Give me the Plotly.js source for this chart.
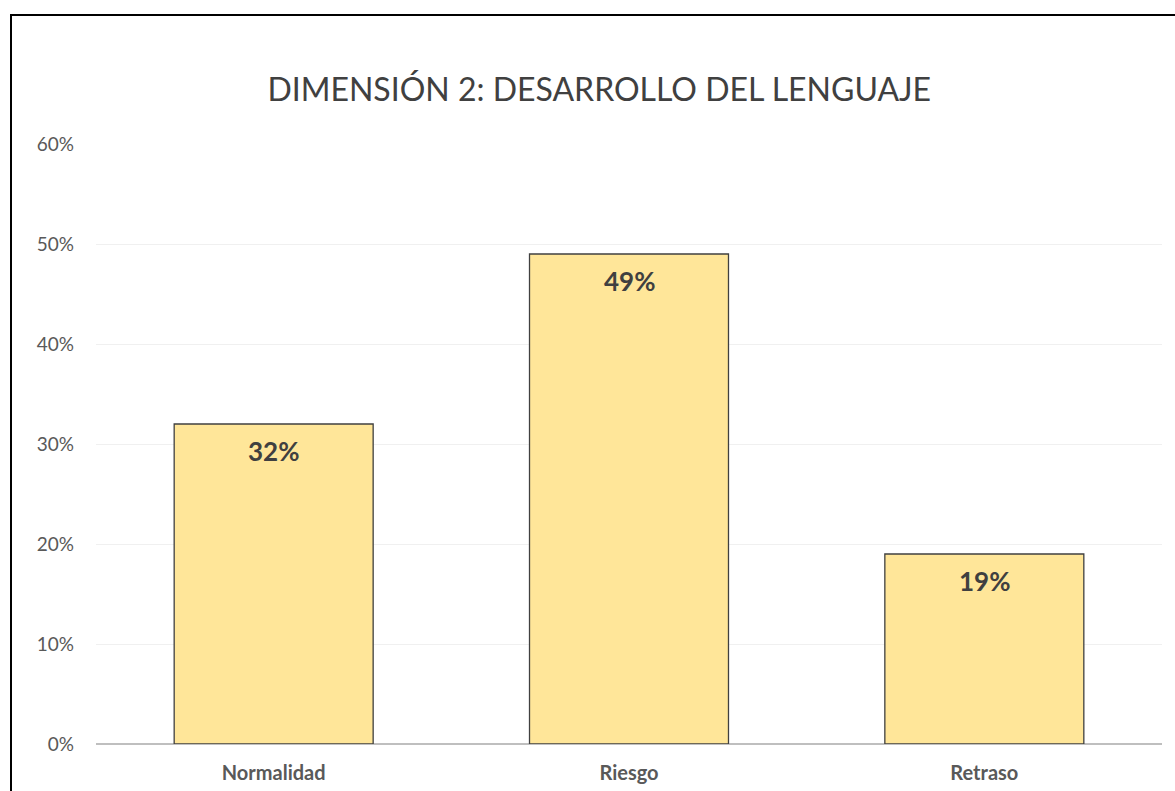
<!DOCTYPE html>
<html>
<head>
<meta charset="utf-8">
<script src="https://cdn.plot.ly/plotly-3.0.1.min.js"></script>
<style>
html,body{margin:0;padding:0;background:#fff;}
#wrap{position:relative;width:1175px;height:791px;overflow:hidden;}
#chart{width:1175px;height:791px;}
#frame{position:absolute;left:10px;top:14px;width:1200px;height:800px;border-left:2px solid #000;border-top:2px solid #000;pointer-events:none;}
</style>
</head>
<body>
<div id="wrap"><div id="chart"></div><div id="frame"></div></div>
<script>
const categories = ["Normalidad", "Riesgo", "Retraso"];
const values = [0.32, 0.49, 0.19];
const labels = ["32%", "49%", "19%"];
const titleText = "DIMENSIÓN 2: DESARROLLO DEL LENGUAJE";

const font = "Lato, 'Open Sans', sans-serif";

const annotations = categories.map((c, i) => ({
  x: c, y: values[i], xref: "x", yref: "y",
  text: labels[i], showarrow: false,
  yanchor: "top", xanchor: "center", yshift: -9,
  font: {family: font, size: 26, color: "#404040", weight: "bold"}
}));

Plotly.newPlot("chart", [{
  type: "bar",
  x: categories,
  y: values,
  marker: {color: "#FFE699", line: {color: "#404040", width: 1.3}},
  hoverinfo: "skip"
}], {
  width: 1175, height: 791,
  paper_bgcolor: "#fff", plot_bgcolor: "#fff",
  margin: {l: 96, r: 13, t: 144, b: 47, pad: 0},
  bargap: 0.44,
  showlegend: false,
  annotations: annotations,
  title: {text: titleText, font: {family: font, size: 32, color: "#404040"}, x: 0.51, xref: "container", xanchor: "center", y: 0.886, yref: "container", yanchor: "middle"},
  xaxis: {
    showgrid: false, zeroline: false, showline: false, ticks: "",
    tickfont: {family: font, size: 20, color: "#595959", weight: "bold"},
    ticklabelstandoff: 15
  },
  yaxis: {
    range: [0, 0.6], dtick: 0.1, tickformat: ".0%",
    showgrid: true, gridcolor: "#F0F0F0", gridwidth: 1,
    zeroline: true, zerolinecolor: "#BFBFBF", zerolinewidth: 2,
    showline: false, ticks: "",
    tickfont: {family: font, size: 19, color: "#595959"},
    ticklabelstandoff: 21
  }
}, {staticPlot: true});
</script>
</body>
</html>
